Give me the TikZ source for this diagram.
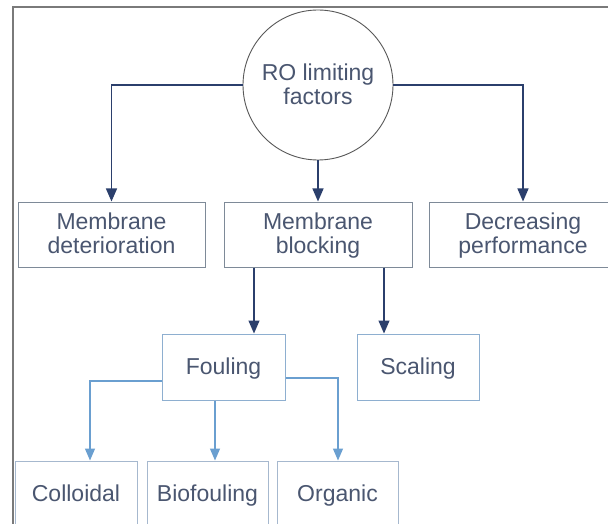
\documentclass[tikz,border=0pt]{standalone}
\usepackage{fontspec}
\setmainfont{Liberation Sans}
\usetikzlibrary{arrows.meta}
\definecolor{txt}{HTML}{4A5670}
\definecolor{darkarrow}{HTML}{2B3F6C}
\definecolor{lightarrow}{HTML}{6A9FD0}
\definecolor{boxgray}{HTML}{7E8A98}
\definecolor{boxblue}{HTML}{8EAFD0}
\definecolor{boxpale}{HTML}{A6B8CE}
\definecolor{framegray}{HTML}{7A7A7A}
\tikzset{
  lbl/.style={text=txt, align=center, inner sep=0pt, text height=16.5pt, text depth=2pt,
    font=\fontsize{23}{24}\selectfont},
  twoline/.style={text height=40.5pt},
  boxA/.style={lbl, twoline, draw=boxgray, line width=1pt, rectangle},
  boxB/.style={lbl, draw=boxblue, line width=1pt, rectangle},
  boxC/.style={lbl, draw=boxpale, line width=1pt, rectangle},
  darr/.style={draw=darkarrow, line width=1.2pt, -{Triangle[width=11pt,length=13pt]}},
  larr/.style={draw=lightarrow, line width=1.2pt, -{Triangle[width=10pt,length=12pt]}}
}
\begin{document}
\begin{tikzpicture}[x=1pt,y=-1pt]
\useasboundingbox (0,0) rectangle (608,524);
\fill[white] (0,0) rectangle (608,524);
\clip (0,0) rectangle (608,524);
\draw[framegray, line width=1.5pt] (13,530) -- (13,7) -- (612,7);

\node[lbl, twoline, draw=black!65, line width=0.9pt, circle, minimum size=150pt] (circ) at (318,85) {RO limiting\\factors};

\node[boxA, minimum width=187pt, minimum height=65pt] (md) at (111.5,234.5) {Membrane\\deterioration};
\node[boxA, minimum width=188pt, minimum height=65pt] (mb) at (318,234.5) {Membrane\\blocking};
\node[boxA, minimum width=188pt, minimum height=65pt] (dp) at (523,234.5) {Decreasing\\performance};

\node[boxB, minimum width=123pt, minimum height=66pt] (fo) at (223.5,367) {Fouling};
\node[boxB, minimum width=122pt, minimum height=66pt] (sc) at (418,367) {Scaling};

\node[boxC, minimum width=122pt, minimum height=67pt] (co) at (76,494.5) {Colloidal};
\node[boxC, minimum width=121pt, minimum height=67pt] (bi) at (207.5,494.5) {Biofouling};
\node[boxC, minimum width=121pt, minimum height=67pt] (or) at (337.5,494.5) {Organic};

\draw[darr] (circ.west) -| (md.north);
\draw[darr] (circ.east) -| (dp.north);
\draw[darr] (circ.south) -- (mb.north);

\coordinate (b1) at (254,0);
\coordinate (b2) at (384,0);
\draw[darr] (mb.south -| b1) -- (fo.north -| b1);
\draw[darr] (mb.south -| b2) -- (sc.north -| b2);

\coordinate (fl) at (90,381);
\coordinate (fr) at (338,378);
\coordinate (fm) at (215,0);
\draw[larr] (fo.west |- fl) -| (co.north -| fl);
\draw[larr] (fo.south -| fm) -- (bi.north -| fm);
\draw[larr] (fo.east |- fr) -| (or.north -| fr);
\end{tikzpicture}
\end{document}
